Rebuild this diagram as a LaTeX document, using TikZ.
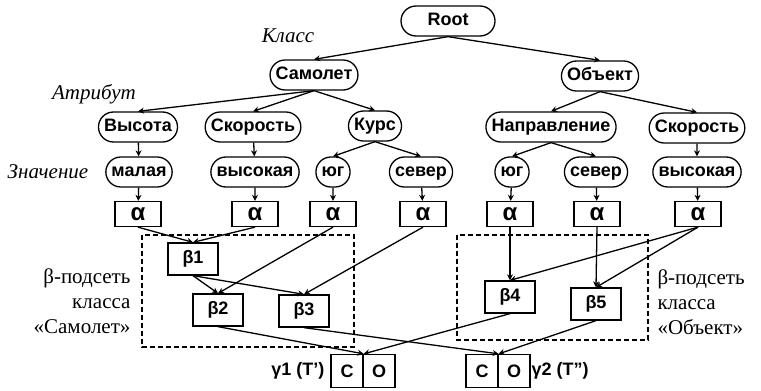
\documentclass[tikz,border=0pt]{standalone}
\usepackage{fontspec}
\setmainfont{Liberation Serif}
\setsansfont{Liberation Sans}
\usetikzlibrary{arrows.meta,shapes.misc}

\begin{document}
\begin{tikzpicture}[x=1pt, y=-1pt,
  every node/.style={font=\sffamily\bfseries\fontsize{18}{20}\selectfont},
  pill/.style={draw, rounded rectangle, minimum height=30pt, inner xsep=3pt, inner ysep=2pt, text height=13pt, text depth=4pt, line width=1.3pt},
  abox/.style={draw, rectangle, minimum width=46pt, minimum height=25pt, inner sep=1pt, line width=1.3pt, font=\sffamily\bfseries\fontsize{24}{24}\selectfont},
  bbox/.style={draw, rectangle, minimum width=50pt, minimum height=32pt, line width=1.3pt},
  cobox/.style={draw, rectangle, minimum width=32pt, minimum height=33pt, line width=1.3pt},
  level/.style={font=\rmfamily\itshape\fontsize{21}{22}\selectfont},
  subset/.style={font=\rmfamily\fontsize{21}{25}\selectfont},
  frame/.style={dash pattern=on 5pt off 3pt, line width=1.3pt},
  link/.style={-{Stealth[length=6pt,width=6pt]}, line width=1.3pt}]
\useasboundingbox (0,0) rectangle (761,391);

% Tree
\node[pill, minimum width=100pt] (root) at (448,21) {Root};
\node[pill] (samolet) at (314,75) {Самолет};
\node[pill] (obekt) at (600,76) {Объект};

\node[pill] (vysota) at (138,127) {Высота};
\node[pill] (skor1) at (253,127) {Скорость};
\node[pill] (kurs) at (375,126) {Курс};
\node[pill] (napr) at (551,127) {Направление};
\node[pill] (skor2) at (697,128) {Скорость};

\node[pill] (mal) at (139,172) {малая};
\node[pill] (vys1) at (255,172) {высокая};
\node[pill] (yug1) at (333,172) {юг};
\node[pill] (sev1) at (421,172) {север};
\node[pill] (yug2) at (512,172) {юг};
\node[pill] (sev2) at (596,172) {север};
\node[pill] (vys2) at (697,172) {высокая};

% Level labels
\node[level] (lclass) at (288,36) {Класс};
\node[level] (lattr) at (94,94) {Атрибут};
\node[level] (lval) at (48,172) {Значение};

% Alpha memory
\node[abox] (a1) at (138,214) {α};
\node[abox] (a2) at (255,214) {α};
\node[abox] (a3) at (333,214) {α};
\node[abox] (a4) at (423,214) {α};
\node[abox] (a5) at (510,214) {α};
\node[abox] (a6) at (597,214) {α};
\node[abox] (a7) at (698,214) {α};

% Beta memory
\node[bbox] (b1) at (193,259) {β1};
\node[bbox] (b2) at (218,310) {β2};
\node[bbox] (b3) at (304,311) {β3};
\node[bbox] (b4) at (510,297) {β4};
\node[bbox] (b5) at (596,304) {β5};

\draw[frame] (142,235) rectangle (354,347);
\draw[frame] (457,235) rectangle (648,340);
\node[subset, anchor=east, align=right] (sub1) at (134,301) {β-подсеть\\класса\\«Самолет»};
\node[subset, anchor=west, align=left] (sub2) at (654,302) {β-подсеть\\класса\\«Объект»};

% Gamma
\node[cobox] (g1c) at (347,371) {C};
\node[cobox] (g1o) at (379,371) {O};
\node[cobox] (g2c) at (482,371) {C};
\node[cobox] (g2o) at (514,371) {O};
\node[anchor=east] (g1lab) at (328,371) {γ1 (T’)};
\node[anchor=west] (g2lab) at (528,371) {γ2 (T”)};

% Arrows
\draw[link] (root.south) -- (samolet.north);
\draw[link] (root.south) -- (obekt.north);
\draw[link] (samolet.south) -- (vysota.north);
\draw[link] (samolet.south) -- (skor1.north);
\draw[link] (samolet.south) -- (kurs.north);
\draw[link] (obekt.south) -- (napr.north);
\draw[link] (obekt.south) -- (skor2.north);
\draw[link] (vysota) -- (mal);
\draw[link] (skor1) -- (vys1);
\draw[link] (kurs.south) -- (yug1.north);
\draw[link] (kurs.south) -- (sev1.north);
\draw[link] (napr.south) -- (yug2.north);
\draw[link] (napr.south) -- (sev2.north);
\draw[link] (skor2) -- (vys2);

\draw[link] (mal) -- (a1);
\draw[link] (vys1) -- (a2);
\draw[link] (yug1) -- (a3);
\draw[link] (sev1) -- (a4);
\draw[link] (yug2) -- (a5);
\draw[link] (sev2) -- (a6);
\draw[link] (vys2) -- (a7);

\draw[link] (a1.south) -- (b1.north);
\draw[link] (a2.south) -- (b1.north);
\draw[link] (a3.south) -- (b2.north);
\draw[link] (a4.south) -- (b3.north);
\draw[link] (b1.south) -- (b2.north);
\draw[link] (b1.south) -- (b3.north);
\draw[link] (a5.south) -- (b4.north);
\draw[link] (a6.south) -- (b5.north);
\draw[link] (a7.south) -- (b4.north);
\draw[link] (a7.south) -- (b5.north);

\draw[link] (b2.south) -- (g1c.north east);
\draw[link] (b4.south) -- (g1c.north east);
\draw[link] (b3.south) -- (g2c.north east);
\draw[link] (b5.south) -- (g2c.north east);
\end{tikzpicture}
\end{document}
